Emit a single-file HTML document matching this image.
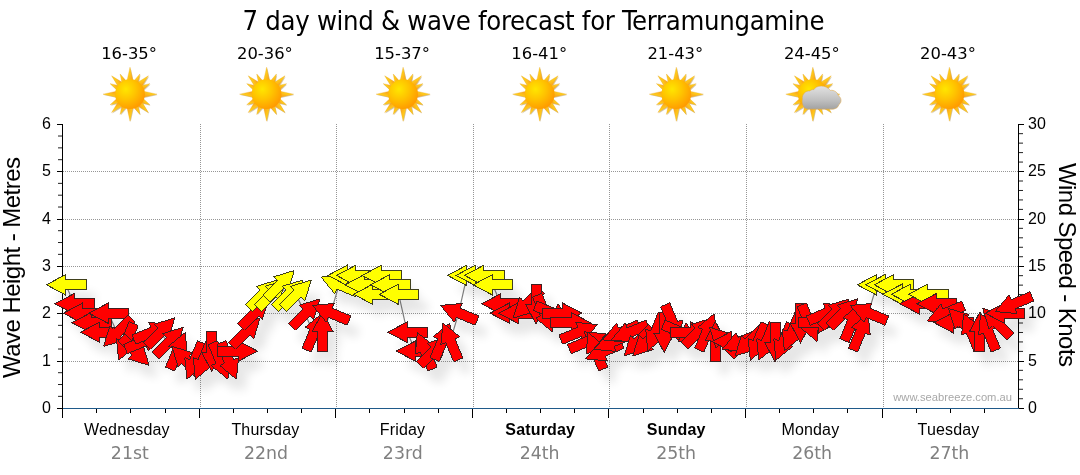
<!DOCTYPE html>
<html lang="en"><head><meta charset="utf-8"><title>7 day wind &amp; wave forecast for Terramungamine</title>
<style>html,body{margin:0;padding:0;background:#fff;}body{width:1080px;height:475px;overflow:hidden;}svg{display:block;}text{fill:#000;}.tah{font-family:"DejaVu Sans Condensed","Liberation Sans",sans-serif;}.ari{font-family:"Liberation Sans",sans-serif;}.ver{font-family:"DejaVu Sans","Liberation Sans",sans-serif;}</style></head><body>
<svg width="1080" height="475" viewBox="0 0 1080 475">
<defs>
<radialGradient id="sg" cx="0.36" cy="0.33" r="0.75"><stop offset="0" stop-color="#ffe600"/><stop offset="0.45" stop-color="#ffc400"/><stop offset="1" stop-color="#ff9500"/></radialGradient>
<linearGradient id="rg" x1="0" y1="0" x2="1" y2="1"><stop offset="0" stop-color="#ffe41a"/><stop offset="0.5" stop-color="#ffc61a"/><stop offset="1" stop-color="#f79a1e"/></linearGradient>
<linearGradient id="cg" x1="0" y1="0" x2="0" y2="1"><stop offset="0" stop-color="#e2e2e2"/><stop offset="0.6" stop-color="#c0c0c0"/><stop offset="1" stop-color="#a2a2a2"/></linearGradient>
<filter id="sh" x="-50%" y="-50%" width="220%" height="220%"><feGaussianBlur in="SourceAlpha" stdDeviation="5"/><feOffset dx="9" dy="13" result="o"/><feComponentTransfer><feFuncA type="linear" slope="0.10"/></feComponentTransfer></filter>
<filter id="ss" x="-30%" y="-30%" width="160%" height="160%"><feGaussianBlur stdDeviation="0.5"/></filter>
<path id="ar" d="M-20.2 0 L-1 -10.2 L-1 -5 L19.4 -5 L19.4 5 L-1 5 L-1 10.2 Z"/>
<g id="sun"><g fill="#8a6a20" opacity="0.35" transform="translate(0.7 0.9)" filter="url(#ss)"><path transform="rotate(0.0)" d="M0 -27.0 L3.0 -13.5 L-3.0 -13.5 Z"/><path transform="rotate(26.0)" d="M0 -22.5 L2.4 -13.5 L-2.4 -13.5 Z"/><path transform="rotate(45.0)" d="M0 -26.0 L3.0 -13.5 L-3.0 -13.5 Z"/><path transform="rotate(62.0)" d="M0 -22.5 L2.4 -13.5 L-2.4 -13.5 Z"/><path transform="rotate(90.0)" d="M0 -27.0 L3.0 -13.5 L-3.0 -13.5 Z"/><path transform="rotate(118.0)" d="M0 -22.5 L2.4 -13.5 L-2.4 -13.5 Z"/><path transform="rotate(135.0)" d="M0 -26.0 L3.0 -13.5 L-3.0 -13.5 Z"/><path transform="rotate(154.0)" d="M0 -22.5 L2.4 -13.5 L-2.4 -13.5 Z"/><path transform="rotate(180.0)" d="M0 -27.0 L3.0 -13.5 L-3.0 -13.5 Z"/><path transform="rotate(206.0)" d="M0 -22.5 L2.4 -13.5 L-2.4 -13.5 Z"/><path transform="rotate(225.0)" d="M0 -26.0 L3.0 -13.5 L-3.0 -13.5 Z"/><path transform="rotate(242.0)" d="M0 -22.5 L2.4 -13.5 L-2.4 -13.5 Z"/><path transform="rotate(270.0)" d="M0 -27.0 L3.0 -13.5 L-3.0 -13.5 Z"/><path transform="rotate(298.0)" d="M0 -22.5 L2.4 -13.5 L-2.4 -13.5 Z"/><path transform="rotate(315.0)" d="M0 -26.0 L3.0 -13.5 L-3.0 -13.5 Z"/><path transform="rotate(334.0)" d="M0 -22.5 L2.4 -13.5 L-2.4 -13.5 Z"/></g><g fill="url(#rg)" stroke="#e8a020" stroke-width="0.3"><path transform="rotate(0.0)" d="M0 -27.0 L3.0 -13.5 L-3.0 -13.5 Z"/><path transform="rotate(26.0)" d="M0 -22.5 L2.4 -13.5 L-2.4 -13.5 Z"/><path transform="rotate(45.0)" d="M0 -26.0 L3.0 -13.5 L-3.0 -13.5 Z"/><path transform="rotate(62.0)" d="M0 -22.5 L2.4 -13.5 L-2.4 -13.5 Z"/><path transform="rotate(90.0)" d="M0 -27.0 L3.0 -13.5 L-3.0 -13.5 Z"/><path transform="rotate(118.0)" d="M0 -22.5 L2.4 -13.5 L-2.4 -13.5 Z"/><path transform="rotate(135.0)" d="M0 -26.0 L3.0 -13.5 L-3.0 -13.5 Z"/><path transform="rotate(154.0)" d="M0 -22.5 L2.4 -13.5 L-2.4 -13.5 Z"/><path transform="rotate(180.0)" d="M0 -27.0 L3.0 -13.5 L-3.0 -13.5 Z"/><path transform="rotate(206.0)" d="M0 -22.5 L2.4 -13.5 L-2.4 -13.5 Z"/><path transform="rotate(225.0)" d="M0 -26.0 L3.0 -13.5 L-3.0 -13.5 Z"/><path transform="rotate(242.0)" d="M0 -22.5 L2.4 -13.5 L-2.4 -13.5 Z"/><path transform="rotate(270.0)" d="M0 -27.0 L3.0 -13.5 L-3.0 -13.5 Z"/><path transform="rotate(298.0)" d="M0 -22.5 L2.4 -13.5 L-2.4 -13.5 Z"/><path transform="rotate(315.0)" d="M0 -26.0 L3.0 -13.5 L-3.0 -13.5 Z"/><path transform="rotate(334.0)" d="M0 -22.5 L2.4 -13.5 L-2.4 -13.5 Z"/></g><circle r="14.9" fill="url(#sg)"/></g>
<g id="cloud"><path d="M-4 15 C-9 15 -11.5 10 -10.5 5 C-11 0 -7 -4 -3 -3.2 C-1.5 -4.5 0 -5 1 -4.5 C3 -9 13 -10 17.5 -3.8 C21 -4.5 25 -2 25.5 1.5 C28.5 3 29.5 8 26 10.5 C25.5 13.5 22 15 19.5 15 Z" fill="url(#cg)" stroke="#e0a84a" stroke-width="0.8" stroke-opacity="0.7"/></g>
</defs>
<rect width="1080" height="475" fill="#fff"/>
<text class="tah" x="533.6" y="29.6" font-size="27.2" text-anchor="middle" textLength="582" lengthAdjust="spacing">7 day wind &amp; wave forecast for Terramungamine</text>
<text class="ver" x="129.1" y="59" font-size="16.4" text-anchor="middle">16-35°</text>
<use href="#sun" x="130.0" y="94.2"/>
<text class="ari" x="126.9" y="435" font-size="16" text-anchor="middle" letter-spacing="0.15">Wednesday</text>
<text class="ver" x="129.8" y="459" font-size="17.33" text-anchor="middle" style="fill:#808080">21st</text>
<text class="ver" x="264.9" y="59" font-size="16.4" text-anchor="middle">20-36°</text>
<use href="#sun" x="266.6" y="94.2"/>
<text class="ari" x="265.4" y="435" font-size="16" text-anchor="middle" letter-spacing="0.15">Thursday</text>
<text class="ver" x="266.0" y="459" font-size="17.33" text-anchor="middle" style="fill:#808080">22nd</text>
<text class="ver" x="402.1" y="59" font-size="16.4" text-anchor="middle">15-37°</text>
<use href="#sun" x="403.1" y="94.2"/>
<text class="ari" x="402.5" y="435" font-size="16" text-anchor="middle" letter-spacing="0.15">Friday</text>
<text class="ver" x="402.8" y="459" font-size="17.33" text-anchor="middle" style="fill:#808080">23rd</text>
<text class="ver" x="539.2" y="59" font-size="16.4" text-anchor="middle">16-41°</text>
<use href="#sun" x="539.7" y="94.2"/>
<text class="ari" x="540.2" y="435" font-size="16" text-anchor="middle" letter-spacing="0.15" font-weight="bold">Saturday</text>
<text class="ver" x="539.6" y="459" font-size="17.33" text-anchor="middle" style="fill:#808080">24th</text>
<text class="ver" x="675.3" y="59" font-size="16.4" text-anchor="middle">21-43°</text>
<use href="#sun" x="676.3" y="94.2"/>
<text class="ari" x="676.2" y="435" font-size="16" text-anchor="middle" letter-spacing="0.15" font-weight="bold">Sunday</text>
<text class="ver" x="676.2" y="459" font-size="17.33" text-anchor="middle" style="fill:#808080">25th</text>
<text class="ver" x="811.8" y="59" font-size="16.4" text-anchor="middle">24-45°</text>
<use href="#sun" x="812.8" y="94.2"/>
<use href="#cloud" x="812.8" y="94.2"/>
<text class="ari" x="810.4" y="435" font-size="16" text-anchor="middle" letter-spacing="0.15">Monday</text>
<text class="ver" x="812.2" y="459" font-size="17.33" text-anchor="middle" style="fill:#808080">26th</text>
<text class="ver" x="948.0" y="59" font-size="16.4" text-anchor="middle">20-43°</text>
<use href="#sun" x="949.4" y="94.2"/>
<text class="ari" x="948.5" y="435" font-size="16" text-anchor="middle" letter-spacing="0.15">Tuesday</text>
<text class="ver" x="949.4" y="459" font-size="17.33" text-anchor="middle" style="fill:#808080">27th</text>
<path d="M63 171.5 H1018 M63 219.5 H1018 M63 266.5 H1018 M63 313.5 H1018 M63 361.5 H1018 M200.5 124 V408 M336.5 124 V408 M473.5 124 V408 M609.5 124 V408 M746.5 124 V408 M883.5 124 V408" stroke="#969696" stroke-width="1" stroke-dasharray="1 1" fill="none" shape-rendering="crispEdges"/>
<path d="M62.5 124 V418 M1018.5 124 V409 M57 124.5 H62 M57 171.5 H62 M57 219.5 H62 M57 266.5 H62 M57 313.5 H62 M57 361.5 H62 M57 408.5 H62" stroke="#000" stroke-width="1" fill="none" shape-rendering="crispEdges"/>
<path d="M58 396.37 H62 M58 384.53 H62 M58 372.70 H62 M58 349.03 H62 M58 337.20 H62 M58 325.37 H62 M58 301.70 H62 M58 289.87 H62 M58 278.03 H62 M58 254.37 H62 M58 242.53 H62 M58 230.70 H62 M58 207.03 H62 M58 195.20 H62 M58 183.37 H62 M58 159.70 H62 M58 147.87 H62 M58 136.03 H62" stroke="#222" stroke-width="1" fill="none"/>
<text class="ari" x="51" y="413.1" font-size="16" text-anchor="end">0</text>
<text class="ari" x="51" y="365.8" font-size="16" text-anchor="end">1</text>
<text class="ari" x="51" y="318.4" font-size="16" text-anchor="end">2</text>
<text class="ari" x="51" y="271.1" font-size="16" text-anchor="end">3</text>
<text class="ari" x="51" y="223.8" font-size="16" text-anchor="end">4</text>
<text class="ari" x="51" y="176.4" font-size="16" text-anchor="end">5</text>
<text class="ari" x="51" y="129.1" font-size="16" text-anchor="end">6</text>
<path d="M1019 408.5 H1024 M1019 361.5 H1024 M1019 313.5 H1024 M1019 266.5 H1024 M1019 219.5 H1024 M1019 171.5 H1024 M1019 124.5 H1024" stroke="#000" stroke-width="1" fill="none" shape-rendering="crispEdges"/>
<path d="M1019 398.73 H1023 M1019 389.27 H1023 M1019 379.80 H1023 M1019 370.33 H1023 M1019 351.40 H1023 M1019 341.93 H1023 M1019 332.47 H1023 M1019 323.00 H1023 M1019 304.07 H1023 M1019 294.60 H1023 M1019 285.13 H1023 M1019 275.67 H1023 M1019 256.73 H1023 M1019 247.27 H1023 M1019 237.80 H1023 M1019 228.33 H1023 M1019 209.40 H1023 M1019 199.93 H1023 M1019 190.47 H1023 M1019 181.00 H1023 M1019 162.07 H1023 M1019 152.60 H1023 M1019 143.13 H1023 M1019 133.67 H1023" stroke="#222" stroke-width="1" fill="none"/>
<text class="ari" x="1028" y="413.1" font-size="16">0</text>
<text class="ari" x="1028" y="365.8" font-size="16">5</text>
<text class="ari" x="1028" y="318.4" font-size="16">10</text>
<text class="ari" x="1028" y="271.1" font-size="16">15</text>
<text class="ari" x="1028" y="223.8" font-size="16">20</text>
<text class="ari" x="1028" y="176.4" font-size="16">25</text>
<text class="ari" x="1028" y="129.1" font-size="16">30</text>
<path d="M96.5 409 V413 M130.5 409 V413 M165.5 409 V413 M199.5 409 V418 M233.5 409 V413 M267.5 409 V413 M301.5 409 V413 M335.5 409 V418 M369.5 409 V413 M404.5 409 V413 M438.5 409 V413 M472.5 409 V418 M506.5 409 V413 M540.5 409 V413 M574.5 409 V413 M608.5 409 V418 M643.5 409 V413 M677.5 409 V413 M711.5 409 V413 M745.5 409 V418 M779.5 409 V413 M813.5 409 V413 M847.5 409 V413 M882.5 409 V418 M916.5 409 V413 M950.5 409 V413 M984.5 409 V413" stroke="#000" stroke-width="1" fill="none" shape-rendering="crispEdges"/>
<path d="M63 408.5 H1019" stroke="#1f5a8a" stroke-width="1" fill="none" shape-rendering="crispEdges"/>
<polyline points="65.9,285.2 74.4,304.2 82.9,313.6 91.5,323.1 100.0,332.6 108.5,313.6 117.1,332.6 125.6,342.0 134.2,351.5 142.7,342.0 151.2,332.6 159.8,332.6 168.3,342.0 176.8,351.5 185.4,361.0 193.9,361.0 202.4,361.0 211.0,351.5 219.5,361.0 228.0,361.0 236.6,351.5 245.1,332.6 253.7,313.6 262.2,294.7 270.7,294.7 279.3,285.2 287.8,294.7 296.3,294.7 304.9,313.6 313.4,332.6 321.9,332.6 330.5,313.6 339.0,285.2 347.5,275.8 356.1,275.8 364.6,285.2 373.2,294.7 381.7,275.8 390.2,285.2 398.8,294.7 407.3,332.6 415.8,351.5 424.4,351.5 432.9,351.5 441.4,342.0 450.0,342.0 458.5,313.6 467.0,275.8 475.6,275.8 484.1,275.8 492.7,285.2 501.2,304.2 509.7,313.6 518.3,313.6 526.8,304.2 535.3,304.2 543.9,313.6 552.4,313.6 560.9,313.6 569.5,323.1 578.0,332.6 586.5,342.0 595.1,351.5 603.6,351.5 612.2,342.0 620.7,332.6 629.2,332.6 637.8,342.0 646.3,342.0 654.8,332.6 663.4,332.6 671.9,323.1 680.4,332.6 689.0,332.6 697.5,332.6 706.0,332.6 714.6,342.0 723.1,342.0 731.7,342.0 740.2,342.0 748.7,342.0 757.3,342.0 765.8,342.0 774.3,342.0 782.9,342.0 791.4,332.6 799.9,323.1 808.5,323.1 817.0,323.1 825.5,313.6 834.1,313.6 842.6,313.6 851.2,323.1 859.7,332.6 868.2,313.6 876.8,285.2 885.3,285.2 893.8,285.2 902.4,294.7 910.9,294.7 919.4,304.2 928.0,294.7 936.5,304.2 945.0,313.6 953.6,323.1 962.1,323.1 970.7,332.6 979.2,332.6 987.7,332.6 996.3,323.1 1004.8,313.6 1013.3,304.2" fill="none" stroke="#808080" stroke-width="1.2"/>
<g filter="url(#sh)"><use href="#ar" transform="translate(66.6 284.8) rotate(0.0)"/><use href="#ar" transform="translate(75.1 303.8) rotate(0.0)"/><use href="#ar" transform="translate(83.6 313.2) rotate(0.0)"/><use href="#ar" transform="translate(92.2 322.7) rotate(0.0)"/><use href="#ar" transform="translate(100.7 332.2) rotate(0.0)"/><use href="#ar" transform="translate(109.2 313.2) rotate(0.0)"/><use href="#ar" transform="translate(117.8 332.2) rotate(-45.0)"/><use href="#ar" transform="translate(126.3 341.6) rotate(-67.5)"/><use href="#ar" transform="translate(134.9 351.1) rotate(-135.0)"/><use href="#ar" transform="translate(143.4 341.6) rotate(157.5)"/><use href="#ar" transform="translate(151.9 332.2) rotate(157.5)"/><use href="#ar" transform="translate(160.5 332.2) rotate(135.0)"/><use href="#ar" transform="translate(169.0 341.6) rotate(135.0)"/><use href="#ar" transform="translate(177.5 351.1) rotate(112.5)"/><use href="#ar" transform="translate(186.1 360.6) rotate(45.0)"/><use href="#ar" transform="translate(194.6 360.6) rotate(-67.5)"/><use href="#ar" transform="translate(203.1 360.6) rotate(-67.5)"/><use href="#ar" transform="translate(211.7 351.1) rotate(-90.0)"/><use href="#ar" transform="translate(220.2 360.6) rotate(-112.5)"/><use href="#ar" transform="translate(228.7 360.6) rotate(-112.5)"/><use href="#ar" transform="translate(237.3 351.1) rotate(180.0)"/><use href="#ar" transform="translate(245.8 332.2) rotate(135.0)"/><use href="#ar" transform="translate(254.4 313.2) rotate(135.0)"/><use href="#ar" transform="translate(262.9 294.3) rotate(135.0)"/><use href="#ar" transform="translate(271.4 294.3) rotate(135.0)"/><use href="#ar" transform="translate(280.0 284.8) rotate(135.0)"/><use href="#ar" transform="translate(288.5 294.3) rotate(135.0)"/><use href="#ar" transform="translate(297.0 294.3) rotate(135.0)"/><use href="#ar" transform="translate(305.6 313.2) rotate(135.0)"/><use href="#ar" transform="translate(314.1 332.2) rotate(112.5)"/><use href="#ar" transform="translate(322.6 332.2) rotate(90.0)"/><use href="#ar" transform="translate(331.2 313.2) rotate(22.5)"/><use href="#ar" transform="translate(339.7 284.8) rotate(22.5)"/><use href="#ar" transform="translate(348.2 275.4) rotate(0.0)"/><use href="#ar" transform="translate(356.8 275.4) rotate(0.0)"/><use href="#ar" transform="translate(365.3 284.8) rotate(0.0)"/><use href="#ar" transform="translate(373.9 294.3) rotate(0.0)"/><use href="#ar" transform="translate(382.4 275.4) rotate(0.0)"/><use href="#ar" transform="translate(390.9 284.8) rotate(0.0)"/><use href="#ar" transform="translate(399.5 294.3) rotate(0.0)"/><use href="#ar" transform="translate(408.0 332.2) rotate(0.0)"/><use href="#ar" transform="translate(416.5 351.1) rotate(0.0)"/><use href="#ar" transform="translate(425.1 351.1) rotate(67.5)"/><use href="#ar" transform="translate(433.6 351.1) rotate(135.0)"/><use href="#ar" transform="translate(442.1 341.6) rotate(112.5)"/><use href="#ar" transform="translate(450.7 341.6) rotate(67.5)"/><use href="#ar" transform="translate(459.2 313.2) rotate(22.5)"/><use href="#ar" transform="translate(467.7 275.4) rotate(0.0)"/><use href="#ar" transform="translate(476.3 275.4) rotate(0.0)"/><use href="#ar" transform="translate(484.8 275.4) rotate(0.0)"/><use href="#ar" transform="translate(493.4 284.8) rotate(0.0)"/><use href="#ar" transform="translate(501.9 303.8) rotate(0.0)"/><use href="#ar" transform="translate(510.4 313.2) rotate(0.0)"/><use href="#ar" transform="translate(519.0 313.2) rotate(0.0)"/><use href="#ar" transform="translate(527.5 303.8) rotate(-45.0)"/><use href="#ar" transform="translate(536.0 303.8) rotate(-90.0)"/><use href="#ar" transform="translate(544.6 313.2) rotate(-112.5)"/><use href="#ar" transform="translate(553.1 313.2) rotate(-157.5)"/><use href="#ar" transform="translate(561.6 313.2) rotate(180.0)"/><use href="#ar" transform="translate(570.2 322.7) rotate(180.0)"/><use href="#ar" transform="translate(578.7 332.2) rotate(157.5)"/><use href="#ar" transform="translate(587.2 341.6) rotate(157.5)"/><use href="#ar" transform="translate(595.8 351.1) rotate(67.5)"/><use href="#ar" transform="translate(604.3 351.1) rotate(-22.5)"/><use href="#ar" transform="translate(612.9 341.6) rotate(-22.5)"/><use href="#ar" transform="translate(621.4 332.2) rotate(-22.5)"/><use href="#ar" transform="translate(629.9 332.2) rotate(-22.5)"/><use href="#ar" transform="translate(638.5 341.6) rotate(-45.0)"/><use href="#ar" transform="translate(647.0 341.6) rotate(-45.0)"/><use href="#ar" transform="translate(655.5 332.2) rotate(-67.5)"/><use href="#ar" transform="translate(664.1 332.2) rotate(-90.0)"/><use href="#ar" transform="translate(672.6 322.7) rotate(-112.5)"/><use href="#ar" transform="translate(681.1 332.2) rotate(-157.5)"/><use href="#ar" transform="translate(689.7 332.2) rotate(180.0)"/><use href="#ar" transform="translate(698.2 332.2) rotate(135.0)"/><use href="#ar" transform="translate(706.7 332.2) rotate(112.5)"/><use href="#ar" transform="translate(715.3 341.6) rotate(90.0)"/><use href="#ar" transform="translate(723.8 341.6) rotate(45.0)"/><use href="#ar" transform="translate(732.4 341.6) rotate(0.0)"/><use href="#ar" transform="translate(740.9 341.6) rotate(-22.5)"/><use href="#ar" transform="translate(749.4 341.6) rotate(-45.0)"/><use href="#ar" transform="translate(758.0 341.6) rotate(-67.5)"/><use href="#ar" transform="translate(766.5 341.6) rotate(-67.5)"/><use href="#ar" transform="translate(775.0 341.6) rotate(-90.0)"/><use href="#ar" transform="translate(783.6 341.6) rotate(-67.5)"/><use href="#ar" transform="translate(792.1 332.2) rotate(-67.5)"/><use href="#ar" transform="translate(800.6 322.7) rotate(-90.0)"/><use href="#ar" transform="translate(809.2 322.7) rotate(-112.5)"/><use href="#ar" transform="translate(817.7 322.7) rotate(180.0)"/><use href="#ar" transform="translate(826.2 313.2) rotate(157.5)"/><use href="#ar" transform="translate(834.8 313.2) rotate(135.0)"/><use href="#ar" transform="translate(843.3 313.2) rotate(135.0)"/><use href="#ar" transform="translate(851.9 322.7) rotate(112.5)"/><use href="#ar" transform="translate(860.4 332.2) rotate(112.5)"/><use href="#ar" transform="translate(868.9 313.2) rotate(22.5)"/><use href="#ar" transform="translate(877.5 284.8) rotate(0.0)"/><use href="#ar" transform="translate(886.0 284.8) rotate(0.0)"/><use href="#ar" transform="translate(894.5 284.8) rotate(0.0)"/><use href="#ar" transform="translate(903.1 294.3) rotate(0.0)"/><use href="#ar" transform="translate(911.6 294.3) rotate(0.0)"/><use href="#ar" transform="translate(920.1 303.8) rotate(0.0)"/><use href="#ar" transform="translate(928.7 294.3) rotate(0.0)"/><use href="#ar" transform="translate(937.2 303.8) rotate(0.0)"/><use href="#ar" transform="translate(945.7 313.2) rotate(-22.5)"/><use href="#ar" transform="translate(954.3 322.7) rotate(0.0)"/><use href="#ar" transform="translate(962.8 322.7) rotate(45.0)"/><use href="#ar" transform="translate(971.4 332.2) rotate(67.5)"/><use href="#ar" transform="translate(979.9 332.2) rotate(90.0)"/><use href="#ar" transform="translate(988.4 332.2) rotate(67.5)"/><use href="#ar" transform="translate(997.0 322.7) rotate(45.0)"/><use href="#ar" transform="translate(1005.5 313.2) rotate(0.0)"/><use href="#ar" transform="translate(1014.0 303.8) rotate(-22.5)"/></g>
<g stroke-width="1" stroke-linejoin="miter" shape-rendering="crispEdges"><use href="#ar" transform="translate(66.6 284.8) rotate(0.0)" fill="#ffff00" stroke="#40401c"/><use href="#ar" transform="translate(75.1 303.8) rotate(0.0)" fill="#ff0000" stroke="#402020"/><use href="#ar" transform="translate(83.6 313.2) rotate(0.0)" fill="#ff0000" stroke="#402020"/><use href="#ar" transform="translate(92.2 322.7) rotate(0.0)" fill="#ff0000" stroke="#402020"/><use href="#ar" transform="translate(100.7 332.2) rotate(0.0)" fill="#ff0000" stroke="#402020"/><use href="#ar" transform="translate(109.2 313.2) rotate(0.0)" fill="#ff0000" stroke="#402020"/><use href="#ar" transform="translate(117.8 332.2) rotate(-45.0)" fill="#ff0000" stroke="#402020"/><use href="#ar" transform="translate(126.3 341.6) rotate(-67.5)" fill="#ff0000" stroke="#402020"/><use href="#ar" transform="translate(134.9 351.1) rotate(-135.0)" fill="#ff0000" stroke="#402020"/><use href="#ar" transform="translate(143.4 341.6) rotate(157.5)" fill="#ff0000" stroke="#402020"/><use href="#ar" transform="translate(151.9 332.2) rotate(157.5)" fill="#ff0000" stroke="#402020"/><use href="#ar" transform="translate(160.5 332.2) rotate(135.0)" fill="#ff0000" stroke="#402020"/><use href="#ar" transform="translate(169.0 341.6) rotate(135.0)" fill="#ff0000" stroke="#402020"/><use href="#ar" transform="translate(177.5 351.1) rotate(112.5)" fill="#ff0000" stroke="#402020"/><use href="#ar" transform="translate(186.1 360.6) rotate(45.0)" fill="#ff0000" stroke="#402020"/><use href="#ar" transform="translate(194.6 360.6) rotate(-67.5)" fill="#ff0000" stroke="#402020"/><use href="#ar" transform="translate(203.1 360.6) rotate(-67.5)" fill="#ff0000" stroke="#402020"/><use href="#ar" transform="translate(211.7 351.1) rotate(-90.0)" fill="#ff0000" stroke="#402020"/><use href="#ar" transform="translate(220.2 360.6) rotate(-112.5)" fill="#ff0000" stroke="#402020"/><use href="#ar" transform="translate(228.7 360.6) rotate(-112.5)" fill="#ff0000" stroke="#402020"/><use href="#ar" transform="translate(237.3 351.1) rotate(180.0)" fill="#ff0000" stroke="#402020"/><use href="#ar" transform="translate(245.8 332.2) rotate(135.0)" fill="#ff0000" stroke="#402020"/><use href="#ar" transform="translate(254.4 313.2) rotate(135.0)" fill="#ff0000" stroke="#402020"/><use href="#ar" transform="translate(262.9 294.3) rotate(135.0)" fill="#ffff00" stroke="#40401c"/><use href="#ar" transform="translate(271.4 294.3) rotate(135.0)" fill="#ffff00" stroke="#40401c"/><use href="#ar" transform="translate(280.0 284.8) rotate(135.0)" fill="#ffff00" stroke="#40401c"/><use href="#ar" transform="translate(288.5 294.3) rotate(135.0)" fill="#ffff00" stroke="#40401c"/><use href="#ar" transform="translate(297.0 294.3) rotate(135.0)" fill="#ffff00" stroke="#40401c"/><use href="#ar" transform="translate(305.6 313.2) rotate(135.0)" fill="#ff0000" stroke="#402020"/><use href="#ar" transform="translate(314.1 332.2) rotate(112.5)" fill="#ff0000" stroke="#402020"/><use href="#ar" transform="translate(322.6 332.2) rotate(90.0)" fill="#ff0000" stroke="#402020"/><use href="#ar" transform="translate(331.2 313.2) rotate(22.5)" fill="#ff0000" stroke="#402020"/><use href="#ar" transform="translate(339.7 284.8) rotate(22.5)" fill="#ffff00" stroke="#40401c"/><use href="#ar" transform="translate(348.2 275.4) rotate(0.0)" fill="#ffff00" stroke="#40401c"/><use href="#ar" transform="translate(356.8 275.4) rotate(0.0)" fill="#ffff00" stroke="#40401c"/><use href="#ar" transform="translate(365.3 284.8) rotate(0.0)" fill="#ffff00" stroke="#40401c"/><use href="#ar" transform="translate(373.9 294.3) rotate(0.0)" fill="#ffff00" stroke="#40401c"/><use href="#ar" transform="translate(382.4 275.4) rotate(0.0)" fill="#ffff00" stroke="#40401c"/><use href="#ar" transform="translate(390.9 284.8) rotate(0.0)" fill="#ffff00" stroke="#40401c"/><use href="#ar" transform="translate(399.5 294.3) rotate(0.0)" fill="#ffff00" stroke="#40401c"/><use href="#ar" transform="translate(408.0 332.2) rotate(0.0)" fill="#ff0000" stroke="#402020"/><use href="#ar" transform="translate(416.5 351.1) rotate(0.0)" fill="#ff0000" stroke="#402020"/><use href="#ar" transform="translate(425.1 351.1) rotate(67.5)" fill="#ff0000" stroke="#402020"/><use href="#ar" transform="translate(433.6 351.1) rotate(135.0)" fill="#ff0000" stroke="#402020"/><use href="#ar" transform="translate(442.1 341.6) rotate(112.5)" fill="#ff0000" stroke="#402020"/><use href="#ar" transform="translate(450.7 341.6) rotate(67.5)" fill="#ff0000" stroke="#402020"/><use href="#ar" transform="translate(459.2 313.2) rotate(22.5)" fill="#ff0000" stroke="#402020"/><use href="#ar" transform="translate(467.7 275.4) rotate(0.0)" fill="#ffff00" stroke="#40401c"/><use href="#ar" transform="translate(476.3 275.4) rotate(0.0)" fill="#ffff00" stroke="#40401c"/><use href="#ar" transform="translate(484.8 275.4) rotate(0.0)" fill="#ffff00" stroke="#40401c"/><use href="#ar" transform="translate(493.4 284.8) rotate(0.0)" fill="#ffff00" stroke="#40401c"/><use href="#ar" transform="translate(501.9 303.8) rotate(0.0)" fill="#ff0000" stroke="#402020"/><use href="#ar" transform="translate(510.4 313.2) rotate(0.0)" fill="#ff0000" stroke="#402020"/><use href="#ar" transform="translate(519.0 313.2) rotate(0.0)" fill="#ff0000" stroke="#402020"/><use href="#ar" transform="translate(527.5 303.8) rotate(-45.0)" fill="#ff0000" stroke="#402020"/><use href="#ar" transform="translate(536.0 303.8) rotate(-90.0)" fill="#ff0000" stroke="#402020"/><use href="#ar" transform="translate(544.6 313.2) rotate(-112.5)" fill="#ff0000" stroke="#402020"/><use href="#ar" transform="translate(553.1 313.2) rotate(-157.5)" fill="#ff0000" stroke="#402020"/><use href="#ar" transform="translate(561.6 313.2) rotate(180.0)" fill="#ff0000" stroke="#402020"/><use href="#ar" transform="translate(570.2 322.7) rotate(180.0)" fill="#ff0000" stroke="#402020"/><use href="#ar" transform="translate(578.7 332.2) rotate(157.5)" fill="#ff0000" stroke="#402020"/><use href="#ar" transform="translate(587.2 341.6) rotate(157.5)" fill="#ff0000" stroke="#402020"/><use href="#ar" transform="translate(595.8 351.1) rotate(67.5)" fill="#ff0000" stroke="#402020"/><use href="#ar" transform="translate(604.3 351.1) rotate(-22.5)" fill="#ff0000" stroke="#402020"/><use href="#ar" transform="translate(612.9 341.6) rotate(-22.5)" fill="#ff0000" stroke="#402020"/><use href="#ar" transform="translate(621.4 332.2) rotate(-22.5)" fill="#ff0000" stroke="#402020"/><use href="#ar" transform="translate(629.9 332.2) rotate(-22.5)" fill="#ff0000" stroke="#402020"/><use href="#ar" transform="translate(638.5 341.6) rotate(-45.0)" fill="#ff0000" stroke="#402020"/><use href="#ar" transform="translate(647.0 341.6) rotate(-45.0)" fill="#ff0000" stroke="#402020"/><use href="#ar" transform="translate(655.5 332.2) rotate(-67.5)" fill="#ff0000" stroke="#402020"/><use href="#ar" transform="translate(664.1 332.2) rotate(-90.0)" fill="#ff0000" stroke="#402020"/><use href="#ar" transform="translate(672.6 322.7) rotate(-112.5)" fill="#ff0000" stroke="#402020"/><use href="#ar" transform="translate(681.1 332.2) rotate(-157.5)" fill="#ff0000" stroke="#402020"/><use href="#ar" transform="translate(689.7 332.2) rotate(180.0)" fill="#ff0000" stroke="#402020"/><use href="#ar" transform="translate(698.2 332.2) rotate(135.0)" fill="#ff0000" stroke="#402020"/><use href="#ar" transform="translate(706.7 332.2) rotate(112.5)" fill="#ff0000" stroke="#402020"/><use href="#ar" transform="translate(715.3 341.6) rotate(90.0)" fill="#ff0000" stroke="#402020"/><use href="#ar" transform="translate(723.8 341.6) rotate(45.0)" fill="#ff0000" stroke="#402020"/><use href="#ar" transform="translate(732.4 341.6) rotate(0.0)" fill="#ff0000" stroke="#402020"/><use href="#ar" transform="translate(740.9 341.6) rotate(-22.5)" fill="#ff0000" stroke="#402020"/><use href="#ar" transform="translate(749.4 341.6) rotate(-45.0)" fill="#ff0000" stroke="#402020"/><use href="#ar" transform="translate(758.0 341.6) rotate(-67.5)" fill="#ff0000" stroke="#402020"/><use href="#ar" transform="translate(766.5 341.6) rotate(-67.5)" fill="#ff0000" stroke="#402020"/><use href="#ar" transform="translate(775.0 341.6) rotate(-90.0)" fill="#ff0000" stroke="#402020"/><use href="#ar" transform="translate(783.6 341.6) rotate(-67.5)" fill="#ff0000" stroke="#402020"/><use href="#ar" transform="translate(792.1 332.2) rotate(-67.5)" fill="#ff0000" stroke="#402020"/><use href="#ar" transform="translate(800.6 322.7) rotate(-90.0)" fill="#ff0000" stroke="#402020"/><use href="#ar" transform="translate(809.2 322.7) rotate(-112.5)" fill="#ff0000" stroke="#402020"/><use href="#ar" transform="translate(817.7 322.7) rotate(180.0)" fill="#ff0000" stroke="#402020"/><use href="#ar" transform="translate(826.2 313.2) rotate(157.5)" fill="#ff0000" stroke="#402020"/><use href="#ar" transform="translate(834.8 313.2) rotate(135.0)" fill="#ff0000" stroke="#402020"/><use href="#ar" transform="translate(843.3 313.2) rotate(135.0)" fill="#ff0000" stroke="#402020"/><use href="#ar" transform="translate(851.9 322.7) rotate(112.5)" fill="#ff0000" stroke="#402020"/><use href="#ar" transform="translate(860.4 332.2) rotate(112.5)" fill="#ff0000" stroke="#402020"/><use href="#ar" transform="translate(868.9 313.2) rotate(22.5)" fill="#ff0000" stroke="#402020"/><use href="#ar" transform="translate(877.5 284.8) rotate(0.0)" fill="#ffff00" stroke="#40401c"/><use href="#ar" transform="translate(886.0 284.8) rotate(0.0)" fill="#ffff00" stroke="#40401c"/><use href="#ar" transform="translate(894.5 284.8) rotate(0.0)" fill="#ffff00" stroke="#40401c"/><use href="#ar" transform="translate(903.1 294.3) rotate(0.0)" fill="#ffff00" stroke="#40401c"/><use href="#ar" transform="translate(911.6 294.3) rotate(0.0)" fill="#ffff00" stroke="#40401c"/><use href="#ar" transform="translate(920.1 303.8) rotate(0.0)" fill="#ff0000" stroke="#402020"/><use href="#ar" transform="translate(928.7 294.3) rotate(0.0)" fill="#ffff00" stroke="#40401c"/><use href="#ar" transform="translate(937.2 303.8) rotate(0.0)" fill="#ff0000" stroke="#402020"/><use href="#ar" transform="translate(945.7 313.2) rotate(-22.5)" fill="#ff0000" stroke="#402020"/><use href="#ar" transform="translate(954.3 322.7) rotate(0.0)" fill="#ff0000" stroke="#402020"/><use href="#ar" transform="translate(962.8 322.7) rotate(45.0)" fill="#ff0000" stroke="#402020"/><use href="#ar" transform="translate(971.4 332.2) rotate(67.5)" fill="#ff0000" stroke="#402020"/><use href="#ar" transform="translate(979.9 332.2) rotate(90.0)" fill="#ff0000" stroke="#402020"/><use href="#ar" transform="translate(988.4 332.2) rotate(67.5)" fill="#ff0000" stroke="#402020"/><use href="#ar" transform="translate(997.0 322.7) rotate(45.0)" fill="#ff0000" stroke="#402020"/><use href="#ar" transform="translate(1005.5 313.2) rotate(0.0)" fill="#ff0000" stroke="#402020"/><use href="#ar" transform="translate(1014.0 303.8) rotate(-22.5)" fill="#ff0000" stroke="#402020"/></g>
<text class="ari" font-size="24" transform="translate(20.2 378) rotate(-90)" textLength="221" lengthAdjust="spacing">Wave Height - Metres</text>
<text class="ari" font-size="24" transform="translate(1059 163) rotate(90)" textLength="204" lengthAdjust="spacing">Wind Speed - Knots</text>
<text class="ari" x="1012" y="400.6" font-size="11.2" text-anchor="end" style="fill:#a8a8a8" letter-spacing="0">www.seabreeze.com.au</text>
</svg></body></html>
